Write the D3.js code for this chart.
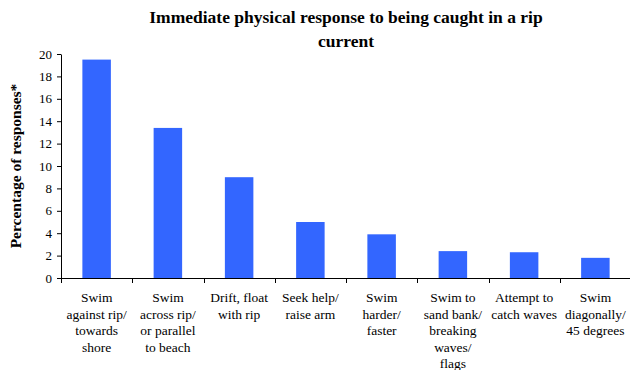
<!DOCTYPE html>
<html><head><meta charset="utf-8">
<script src="https://cdn.jsdelivr.net/npm/d3@7"></script>
<style>body{margin:0;background:#fff}svg{display:block}svg text{font-family:"Liberation Serif","Times New Roman",Times,serif !important}</style>
</head><body>
<svg id="c" width="630" height="370" font-family="Liberation Serif"></svg>
<script>
const categories = [
  ["Swim","against rip/","towards","shore"],
  ["Swim","across rip/","or parallel","to beach"],
  ["Drift, float","with rip"],
  ["Seek help/","raise arm"],
  ["Swim","harder/","faster"],
  ["Swim to","sand bank/","breaking","waves/","flags"],
  ["Attempt to","catch waves"],
  ["Swim","diagonally/","45 degrees"]
];
const values = [19.5, 13.4, 9.0, 5.0, 3.9, 2.4, 2.3, 1.8];
const yTicks = [0,2,4,6,8,10,12,14,16,18,20];
const FONT = "Liberation Serif, Times New Roman, Times, serif";

const svg = d3.select("#c");
const L = 61, R = 631, T = 54, B = 278;
const x = d3.scaleBand().domain(d3.range(categories.length)).range([L, R]).paddingInner(0.6).paddingOuter(0.3);
const xb = d3.scaleLinear().domain([0, categories.length]).range([L, R]);
const y = d3.scaleLinear().domain([0, 20]).range([B, T]);

svg.selectAll("rect.bar").data(values).join("rect")
  .attr("x", (d,i)=>x(i)).attr("width", x.bandwidth())
  .attr("y", d=>y(d)).attr("height", d=>B-y(d))
  .attr("fill", "#3366FF");

const ya = svg.append("g").attr("transform", `translate(${L},0)`)
  .call(d3.axisLeft(y).tickValues(yTicks).tickSize(4).tickSizeOuter(0).tickPadding(5));
ya.attr("font-family", FONT);
ya.select(".domain").attr("stroke","#000");
ya.selectAll(".tick line").attr("stroke","#000");
ya.selectAll("text").attr("font-size",13).attr("fill","#000");

// x axis
const xa = svg.append("g");
xa.append("line").attr("x1",L).attr("x2",R).attr("y1",B+0.5).attr("y2",B+0.5).attr("stroke","#000");
xa.selectAll("line.t").data(d3.range(categories.length+1)).join("line")
  .attr("x1",d=>Math.round(xb(d))+0.5).attr("x2",d=>Math.round(xb(d))+0.5)
  .attr("y1",B).attr("y2",B+5).attr("stroke","#000");
const lbl = xa.selectAll("text").data(categories).join("text")
  .attr("text-anchor","middle").attr("font-size",13.5).attr("fill","#000")
  .attr("transform",(d,i)=>`translate(${x(i)+x.bandwidth()/2},${B+24})`);
lbl.selectAll("tspan").data(d=>d).join("tspan")
  .attr("x",0).attr("y",(d,j)=>j*16.5).text(d=>d);

svg.append("text").attr("x",346).attr("y",23).attr("text-anchor","middle")
  .attr("font-size",17.5).attr("font-weight","bold").text("Immediate physical response to being caught in a rip");
svg.append("text").attr("x",346).attr("y",47).attr("text-anchor","middle")
  .attr("font-size",17.5).attr("font-weight","bold").text("current");
svg.append("text").attr("transform","translate(21,166) rotate(-90)").attr("text-anchor","middle")
  .attr("font-size",15.5).attr("font-weight","bold").text("Percentage of responses*");

svg.selectAll("text").attr("font-family", FONT).style("font-family", FONT, "important");
</script>
</body></html>
